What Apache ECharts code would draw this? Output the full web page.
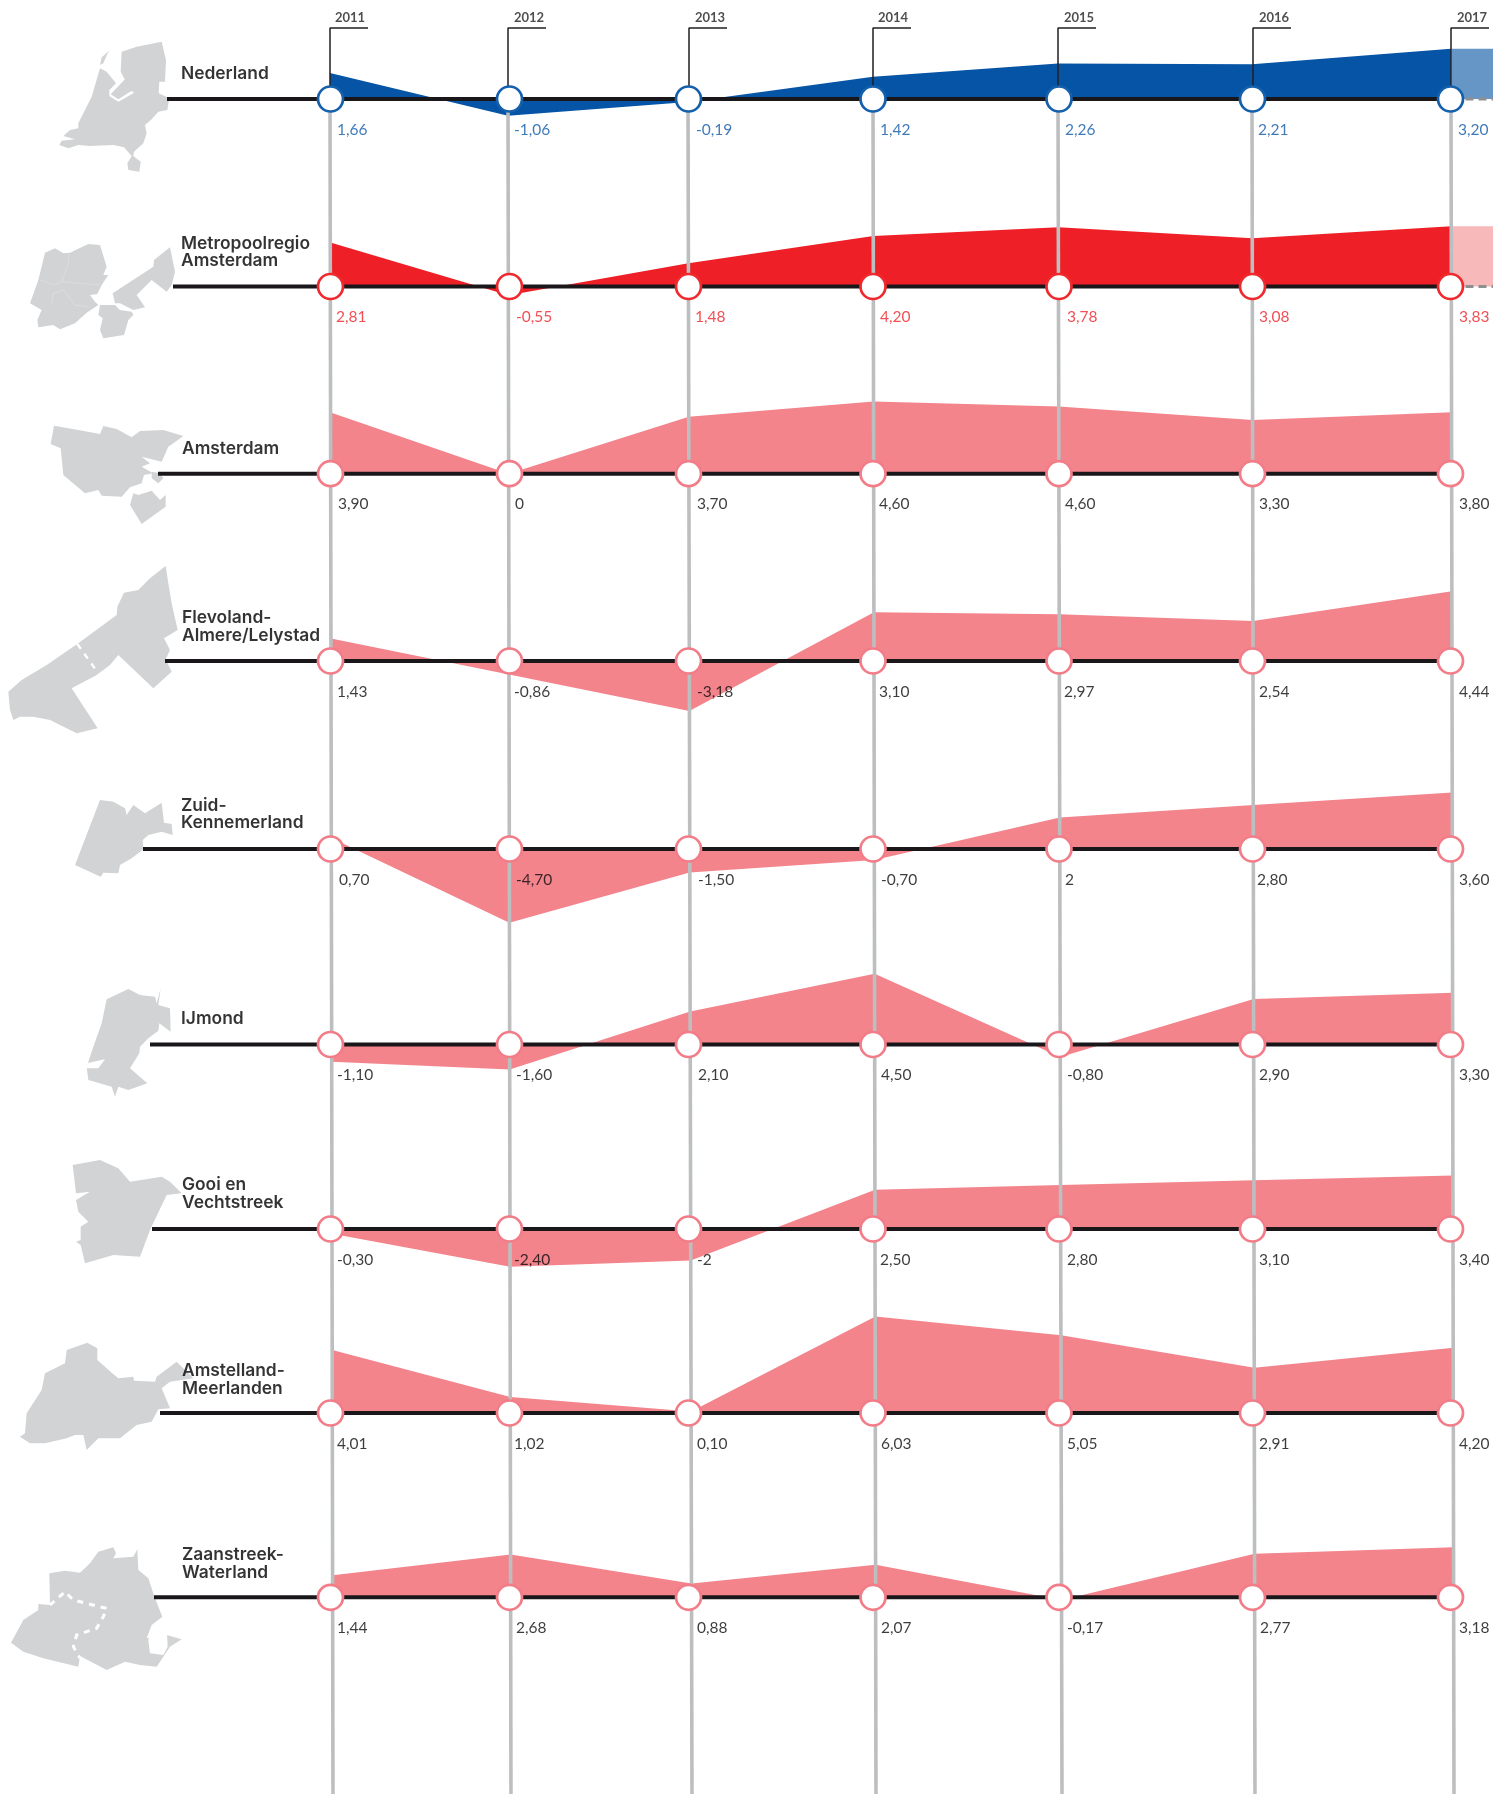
<!DOCTYPE html>
<html><head><meta charset="utf-8">
<style>html,body{margin:0;padding:0;background:#fff}#c{width:1493px;height:1794px}</style>
<script src="https://cdn.jsdelivr.net/npm/echarts@6/dist/echarts.min.js"></script>
</head><body><div id="c"></div>
<script>
// ---------- data ----------
const years = ['2011','2012','2013','2014','2015','2016','2017'];
const regionNames = ['Nederland','Metropoolregio\nAmsterdam','Amsterdam','Flevoland-\nAlmere/Lelystad','Zuid-\nKennemerland','IJmond','Gooi en\nVechtstreek','Amstelland-\nMeerlanden','Zaanstreek-\nWaterland'];
// heights of the drawn shapes
const valNederland   = [1.66,-1.06,-0.19,1.42,2.26,2.21,3.20];
const valMetropool   = [2.81,-0.55,1.48,3.22,3.78,3.08,3.83];
const valAmsterdam   = [3.90,0,3.62,4.60,4.28,3.42,3.92];
const valFlevoland   = [1.43,-0.86,-3.18,3.10,2.97,2.54,4.44];
const valKennemerland= [0.70,-4.70,-1.50,-0.70,2.00,2.80,3.60];
const valIJmond      = [-1.10,-1.60,2.10,4.50,-0.80,2.90,3.30];
const valGooi        = [-0.30,-2.40,-2.00,2.50,2.80,3.10,3.40];
const valAmstelland  = [4.01,1.02,0.10,6.15,4.95,2.88,4.15];
const valZaanstreek  = [1.40,2.72,0.88,2.07,-0.17,2.77,3.18];
// numbers printed under the points
const txtNederland   = ['1,66','-1,06','-0,19','1,42','2,26','2,21','3,20'];
const txtMetropool   = ['2,81','-0,55','1,48','4,20','3,78','3,08','3,83'];
const txtAmsterdam   = ['3,90','0','3,70','4,60','4,60','3,30','3,80'];
const txtFlevoland   = ['1,43','-0,86','-3,18','3,10','2,97','2,54','4,44'];
const txtKennemerland= ['0,70','-4,70','-1,50','-0,70','2','2,80','3,60'];
const txtIJmond      = ['-1,10','-1,60','2,10','4,50','-0,80','2,90','3,30'];
const txtGooi        = ['-0,30','-2,40','-2','2,50','2,80','3,10','3,40'];
const txtAmstelland  = ['4,01','1,02','0,10','6,03','5,05','2,91','4,20'];
const txtZaanstreek  = ['1,44','2,68','0,88','2,07','-0,17','2,77','3,18'];
const allVals=[valNederland,valMetropool,valAmsterdam,valFlevoland,valKennemerland,valIJmond,valGooi,valAmstelland,valZaanstreek];
const allTxt =[txtNederland,txtMetropool,txtAmsterdam,txtFlevoland,txtKennemerland,txtIJmond,txtGooi,txtAmstelland,txtZaanstreek];

// ---------- layout ----------
const FONT='Lato';
const W=1493,H=1794,UNIT=15.7,YMAX=6.25,YMIN=-5;
const colX=[330.5,509.5,688.5,873,1059,1252.5,1450.5];
const grayTop=[330,508,688,873,1058,1252,1451], grayBot=[333,511,692,876,1062,1255,1454];
const connX=[330,508,689,873,1058,1253,1451];
const yearLabelX=[335,514,695,878,1064,1259,1457];
const baseY=[99,286.5,473.7,661,849,1044.5,1229,1413,1597.3];
const lineStart=[167,173,158,165,143,150,152,160,154];
const nameX=[181,181,182,182,181,181,182,182,182];
const nameY=[73.5,252.5,448.5,627,814.5,1018.5,1194,1380,1564];
const txtX=[
 [337,514,696,880,1065,1258,1458],[336,516,695,880,1067,1259,1459],[338,515,697,879,1065,1259,1459],
 [337,514,697,879,1064,1259,1459],[339,516,698,881,1065,1257,1459],[337,516,698,881,1067,1259,1459],
 [337,514,697,880,1067,1259,1459],[337,514,697,881,1067,1259,1459],[337,516,697,881,1067,1260,1459]];
const colorArea=['#0554A5','#EE1F26','#F3848C','#F3848C','#F3848C','#F3848C','#F3848C','#F3848C','#F3848C'];
const colorRing=['#1560AB','#EE2A2F','#F27D88','#F27D88','#F27D88','#F27D88','#F27D88','#F27D88','#F27D88'];
const colorTxt =['#1259A8','#EE2329','#0B0B0D','#0B0B0D','#0B0B0D','#0B0B0D','#0B0B0D','#0B0B0D','#0B0B0D'];
const colorExt =['#6596C6','#F7B9BA'];
// the columns lean slightly to the right going down the page
const leanX=(j,i)=>grayTop[j]+(grayBot[j]-grayTop[j])*(baseY[i]-baseY[0])/(H-baseY[0]);

// ---------- grids ----------
const grid=[],xAxis=[],yAxis=[],series=[];
const hidden={show:false};
baseY.forEach((b,i)=>{
  grid.push({left:0,width:W,top:b-YMAX*UNIT,height:(YMAX-YMIN)*UNIT});
  xAxis.push({type:'value',gridIndex:i,min:0,max:W,...hidden});
  yAxis.push({type:'value',gridIndex:i,min:YMIN,max:YMAX,...hidden});
});
const P=baseY.length;
grid.push({left:0,top:0,width:W,height:H});
xAxis.push({type:'value',gridIndex:P,min:0,max:W,...hidden});
yAxis.push({type:'value',gridIndex:P,min:0,max:H,inverse:true,...hidden});

function line(grid,data,color,width,z,extra){
  series.push(Object.assign({type:'line',xAxisIndex:grid,yAxisIndex:grid,data,showSymbol:false,symbol:'none',silent:true,z,
    lineStyle:{color,width,cap:'butt'},animation:false},extra||{}));
}
// areas
allVals.forEach((v,i)=>{
  line(i,v.map((y,j)=>[leanX(j,i),y]),colorArea[i],0,2,{areaStyle:{color:colorArea[i],opacity:1,origin:0}});
});
// light continuation past 2017
[valNederland,valMetropool].forEach((v,i)=>{
  const last=v[v.length-1];
  line(i,[[colX[6]+1,last],[W,last]],colorExt[i],0,1,{areaStyle:{color:colorExt[i],opacity:1,origin:0}});
  line(i,[[colX[6]+15,0],[W,0]],'#8E8F91',3,3,{lineStyle:{color:'#8E8F91',width:3,type:[8,5]}});
});
// gray columns
years.forEach((y,j)=>line(P,[[grayTop[j],baseY[0]],[grayBot[j],H]],'#BCBEC0',3.6,3));
// baselines
baseY.forEach((b,i)=>line(i,[[lineStart[i],0],[colX[6],0]],'#1A171B',4,4));
// year connectors
years.forEach((y,j)=>line(P,[[connX[j],baseY[0]-12],[connX[j],28],[connX[j]+38,28]],'#231F20',1.5,5));
// year labels
series.push({type:'scatter',xAxisIndex:P,yAxisIndex:P,symbolSize:0,silent:true,z:8,animation:false,
  data:years.map((y,j)=>({value:[yearLabelX[j],18],label:{formatter:y}})),
  label:{show:true,position:'right',distance:0,color:'#231F20',fontFamily:FONT,fontWeight:700,fontSize:13}});
// region names
series.push({type:'scatter',xAxisIndex:P,yAxisIndex:P,symbolSize:0,silent:true,z:8,animation:false,
  data:regionNames.map((n,i)=>({value:[nameX[i],nameY[i]],label:{formatter:n}})),
  label:{show:true,position:'right',distance:0,color:'#000',fontFamily:'Inter',fontWeight:600,fontSize:17.4,lineHeight:17.5,align:'left'}});
// rings and printed numbers
allVals.forEach((v,i)=>{
  series.push({type:'scatter',xAxisIndex:i,yAxisIndex:i,silent:true,z:6,animation:false,symbol:'circle',symbolSize:25,
    itemStyle:{color:'#fff',borderColor:colorRing[i],borderWidth:2.7,opacity:1},
    data:colX.map(x=>[x,0])});
  series.push({type:'scatter',xAxisIndex:i,yAxisIndex:i,silent:true,z:8,animation:false,symbolSize:0,
    data:allTxt[i].map((t,j)=>({value:[txtX[i][j],0],label:{formatter:t}})),
    label:{show:true,position:'right',distance:0,offset:[0,30.5],color:colorTxt[i],fontFamily:FONT,fontSize:15.5,fontWeight:400}});
});

// ---------- decorative silhouettes ----------
const GREY='#D1D3D4';
const shapes=[
 {o:[50,30],f:GREY,p:[[215,65],[260,50],[335,35],[348,90],[345,155],[328,155],[326,190],[358,205],[352,240],[325,245],[305,268],[285,285],[290,310],[280,340],[252,365],[250,378],[272,395],[268,425],[235,420],[232,400],[245,378],[222,352],[190,345],[120,348],[85,345],[55,355],[28,345],[35,332],[75,328],[40,318],[60,300],[85,295],[85,280],[100,250],[125,200],[150,115],[170,125],[198,160],[178,180],[178,198],[205,215],[250,190],[255,160],[225,150],[212,125]]},
 {o:[50,30],f:GREY,p:[[182,193],[225,148],[258,158],[254,186],[243,184],[205,208]]},
 {o:[50,30],f:GREY,p:[[150,105],[155,82],[178,62],[170,76],[160,100]]},
 {o:[20,230],f:GREY,p:[[30,220],[55,150],[60,130],[75,68],[105,55],[130,70],[150,68],[205,42],[240,45],[260,110],[250,135],[265,135],[245,165],[232,192],[210,195],[225,215],[235,225],[200,248],[165,280],[120,298],[100,285],[55,292],[52,270],[65,240]]},
 {o:[20,230],f:GREY,p:[[278,190],[400,110],[402,90],[450,52],[465,125],[455,165],[440,185],[395,150],[350,195],[375,232],[340,240],[300,220],[285,220]]},
 {o:[20,230],f:GREY,p:[[240,225],[285,225],[300,240],[335,245],[340,255],[325,270],[312,315],[250,325],[240,300],[248,265],[235,255]]},
 {o:[20,230],f:GREY,p:[[102,587],[175,600],[240,612],[250,588],[290,597],[335,622],[360,603],[430,600],[490,618],[460,640],[445,650],[425,695],[365,680],[390,700],[365,710],[400,730],[372,735],[365,760],[330,772],[305,800],[245,797],[235,780],[195,790],[130,735],[122,655],[92,642]]},
 {o:[20,230],f:GREY,p:[[340,790],[355,795],[395,782],[420,810],[437,795],[437,830],[395,860],[365,882],[330,825]]},
 {o:[20,230],f:GREY,p:[[395,725],[420,730],[430,745],[415,760],[395,745]]},
 {o:[0,560],f:GREY,p:[[497,18],[505,70],[515,130],[533,210],[492,235],[510,270],[497,298],[515,335],[460,385],[355,285],[330,315],[290,345],[215,385],[293,505],[230,520],[150,480],[100,470],[60,470],[40,480],[30,450],[25,395],[65,360],[140,315],[235,250],[350,165],[352,140],[372,98],[415,90],[450,55]]},
 {o:[60,790],f:GREY,p:[[120,30],[160,35],[195,55],[200,75],[220,45],[255,70],[305,38],[312,98],[335,102],[338,135],[305,125],[265,135],[248,150],[250,178],[215,205],[180,225],[175,250],[130,248],[122,260],[45,225]]},
 {o:[60,790],f:GREY,p:[[140,628],[205,597],[240,615],[285,620],[290,640],[302,595],[295,645],[330,655],[332,725],[298,700],[295,722],[265,745],[240,770],[238,790],[210,835],[262,880],[205,900],[175,890],[165,920],[155,890],[85,870],[80,830],[100,770],[125,700]]},
 {o:[60,790],f:'#fff',p:[[55,825],[135,808],[115,835],[60,835]]},
 {o:[10,1150],f:GREY,p:[[188,45],[270,30],[325,55],[360,95],[455,80],[480,95],[515,130],[470,135],[420,240],[390,320],[310,315],[225,340],[212,285],[198,275],[212,270],[212,230],[235,215],[205,185],[198,150],[240,125],[198,130]]},
 {o:[10,1150],f:GREY,p:[[170,600],[232,578],[262,595],[262,630],[305,668],[325,685],[370,680],[372,692],[435,695],[440,680],[500,635],[550,685],[480,695],[455,715],[480,775],[445,778],[425,815],[380,825],[330,865],[265,865],[230,900],[220,855],[195,855],[170,865],[105,880],[60,880],[30,860],[45,850],[50,790],[95,720],[105,670],[165,640]]},
 {o:[0,1530],f:GREY,p:[[33,338],[70,270],[115,240],[115,222],[150,225],[148,130],[195,122],[240,128],[270,100],[295,65],[340,52],[348,70],[340,85],[400,80],[412,58],[415,120],[445,145],[465,205],[487,260],[455,285],[440,325],[500,315],[545,328],[510,350],[490,380],[470,410],[420,405],[375,395],[320,420],[240,378],[235,410],[130,385],[70,365]]},
 {o:[0,1530],f:'#fff',p:[[460,290],[500,290],[503,350],[490,375],[450,370],[445,330]]}
];
const dashes=[
 {o:[0,560],p:[[232,252],[295,340]],w:2.4},
 {o:[0,1530],p:[[150,225],[195,185],[220,210],[290,228],[320,235],[310,260],[290,295],[230,315],[220,350],[240,385]],w:3}
];
const borders=[
 {o:[20,230],p:[[60,150],[100,165],[125,155],[240,165]]},
 {o:[20,230],p:[[125,155],[145,100],[145,70]]},
 {o:[20,230],p:[[132,180],[100,190],[95,225]]},
 {o:[20,230],p:[[132,180],[165,225],[205,230]]}
];
const conv=(o,p)=>p.map(q=>[o[0]+q[0]/3,o[1]+q[1]/3]);
const graphic=[];
shapes.forEach(s=>graphic.push({type:'polygon',silent:true,z:1,shape:{points:conv(s.o,s.p)},style:{fill:s.f}}));
dashes.forEach(d=>graphic.push({type:'polyline',silent:true,z:1,shape:{points:conv(d.o,d.p)},style:{fill:null,stroke:'#fff',lineWidth:d.w,lineDash:[6,6]}}));
borders.forEach(d=>graphic.push({type:'polyline',silent:true,z:1,shape:{points:conv(d.o,d.p)},style:{fill:null,stroke:'#DEDFE0',lineWidth:0.8}}));

const chart=echarts.init(document.getElementById('c'),null,{renderer:'canvas',width:W,height:H});
chart.setOption({animation:false,backgroundColor:'#fff',grid,xAxis,yAxis,series,graphic});
</script>
</body></html>
